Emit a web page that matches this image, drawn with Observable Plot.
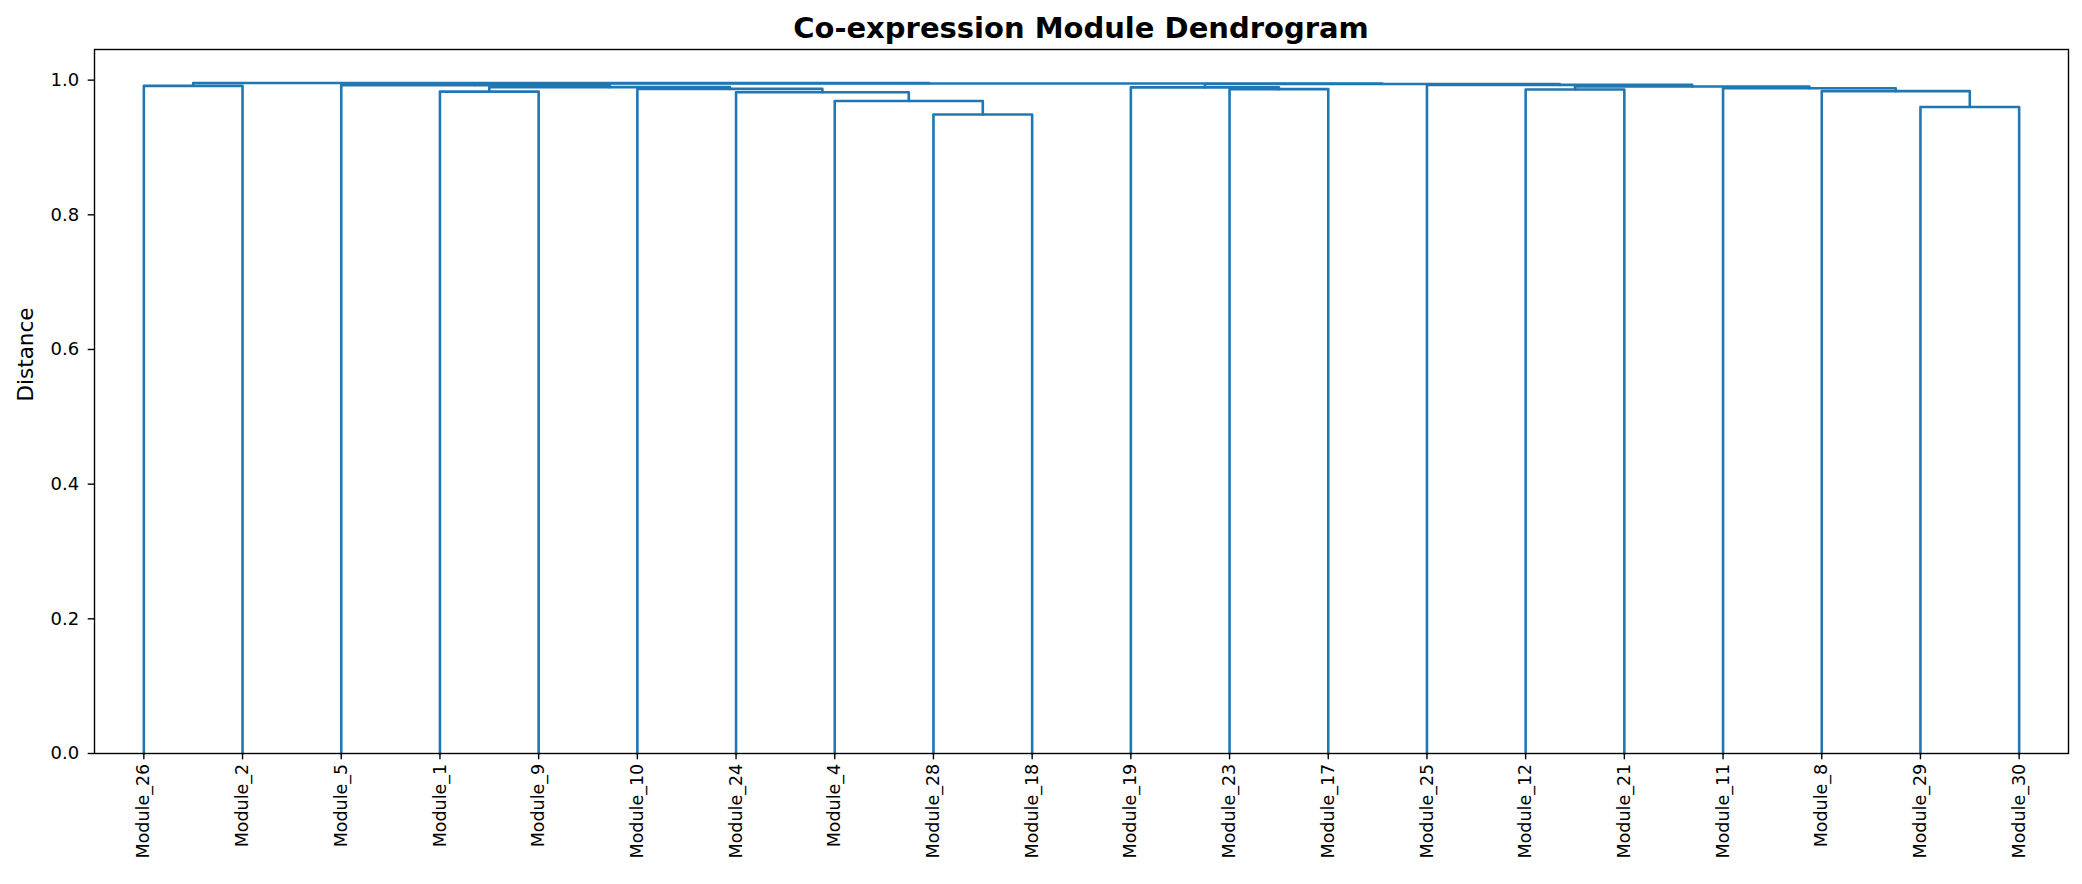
<!DOCTYPE html>
<html><head><meta charset="utf-8">
<script src="https://cdn.jsdelivr.net/npm/d3@7"></script>
<script src="https://cdn.jsdelivr.net/npm/@observablehq/plot@0.6"></script>
<style>
body{margin:0;background:#fff;font-family:"DejaVu Sans",sans-serif;}
#title{width:2082px;box-sizing:border-box;padding-left:94px;padding-right:14px;height:47px;text-align:center;font-weight:bold;font-size:29px;line-height:56px;color:#000;}
</style></head><body>
<div id="title">Co-expression Module Dendrogram</div>
<div id="chart"></div>
<script>
// Leaf order (left to right)
const leaves = ["Module_26","Module_2","Module_5","Module_1","Module_9","Module_10","Module_24","Module_4","Module_28","Module_18",
                "Module_19","Module_23","Module_17","Module_25","Module_12","Module_21","Module_11","Module_8","Module_29","Module_30"];
// Merges: merge i creates node "c{i+1}"
const mergeLeft   = ["Module_28","Module_29","Module_4","Module_24","Module_1","Module_8","Module_12","Module_23","Module_10","Module_11",
                     "Module_19","c5","c7","Module_26","Module_5","Module_25","c11","c15","c14"];
const mergeRight  = ["Module_18","Module_30","c1","c3","Module_9","c2","Module_21","Module_17","c4","c6",
                     "c8","c9","c10","Module_2","c12","c13","c16","c17","c18"];
const mergeHeight = [0.949,0.960,0.969,0.982,0.983,0.9836,0.986,0.9866,0.987,0.988,
                     0.9893,0.9896,0.9905,0.9915,0.9926,0.9929,0.9942,0.995,0.9957];
const yTicks = [0,0.2,0.4,0.6,0.8,1.0];

const pos = {};
leaves.forEach((n,i)=>pos[n]={x:i+0.5,y:0});
const segs=[];
mergeLeft.forEach((l,i)=>{
  const r=mergeRight[i], h=mergeHeight[i];
  const a=pos[l], b=pos[r];
  segs.push({id:i,x:a.x,y:a.y},{id:i,x:a.x,y:h},{id:i,x:b.x,y:h},{id:i,x:b.x,y:b.y});
  pos["c"+(i+1)]={x:(a.x+b.x)/2,y:h};
});
const yMax = d3.max(mergeHeight)*1.05;

const chart = Plot.plot({
  width:2082, height:837, marginLeft:94, marginRight:14, marginTop:2, marginBottom:131,
  x:{domain:[0,leaves.length]}, y:{domain:[0,yMax]},
  style:{fontFamily:"DejaVu Sans", color:"black", background:"white"},
  marks:[
    Plot.line(segs,{x:"x",y:"y",z:"id",stroke:"#1f77b4",strokeWidth:2.6}),
    Plot.frame({stroke:"black",strokeWidth:1.4}),
    Plot.axisY({ticks:yTicks, tickFormat:d3.format(".1f"), tickSize:6.3, tickPadding:9, fontSize:18, label:null, strokeWidth:1.4}),
    Plot.axisX({ticks:leaves.map((d,i)=>i+0.5), tickFormat:d=>leaves[Math.floor(d)], tickRotate:-90, tickSize:6.3, tickPadding:4, fontSize:17.5, label:null, strokeWidth:1.4}),
    Plot.text(["Distance"],{frameAnchor:"left", text:d=>d, rotate:-90, dx:-68, fontSize:21.5})
  ]
});
document.getElementById("chart").appendChild(chart);
</script>
</body></html>
